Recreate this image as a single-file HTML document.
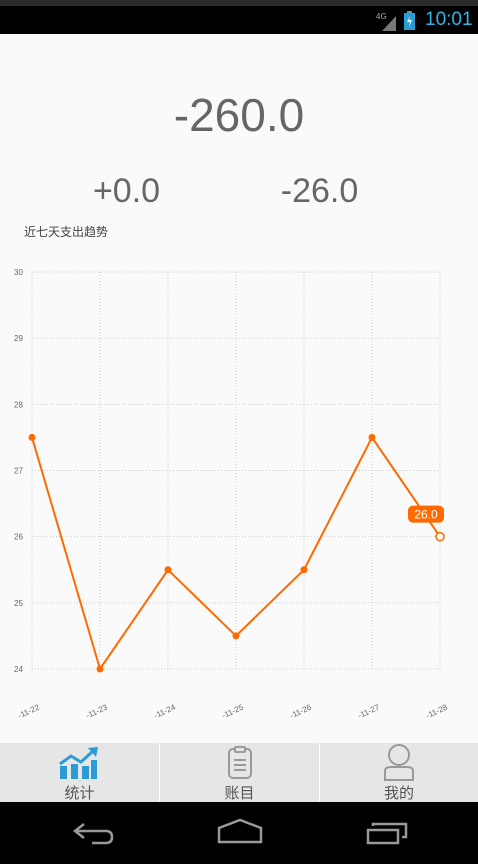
<!DOCTYPE html>
<html><head><meta charset="utf-8">
<style>
html,body{margin:0;padding:0;width:478px;height:864px;overflow:hidden;background:#fafafa;font-family:"Liberation Sans","Noto Sans CJK SC",sans-serif;}
.abs{position:absolute;}
</style></head>
<body>
<div class="abs" style="left:0;top:0;width:478px;height:6px;background:#2a2a2a"></div>
<div class="abs" style="left:0;top:6px;width:478px;height:28px;background:#000">
  <svg class="abs" style="left:376px;top:4px" width="22" height="22"><text x="0" y="9" font-size="8" fill="#aaa" font-family="Liberation Sans">4G</text><polygon points="6,21 20,21 20,6" fill="#777"/></svg>
  <svg class="abs" style="left:404px;top:5px" width="12" height="20"><rect x="3" y="0" width="5" height="3" fill="#3aa"/><rect x="0" y="2" width="11" height="17" fill="#2b9bd6"/><polygon points="6,5 3,11 6,11 5,16 8,9 5,9" fill="#fff"/></svg>
  <div class="abs" style="left:425px;top:3px;font-size:19px;color:#33b5e5">10:01</div>
</div>
<div class="abs" style="left:0;width:478px;top:88px;text-align:center;font-size:46px;color:#666">-260.0</div>
<div class="abs" style="left:60px;width:133px;top:172px;text-align:center;font-size:34px;color:#666">+0.0</div>
<div class="abs" style="left:253px;width:133px;top:172px;text-align:center;font-size:34px;color:#666">-26.0</div>
<div class="abs" style="left:24px;top:223px;font-size:12px;color:#444">近七天支出趋势</div>
<svg class="abs" id="chart" style="left:0;top:250px" width="478" height="480"></svg>
<div class="abs" style="left:0;top:743px;width:478px;height:59px;background:#e6e6e6">
  <div class="abs" style="left:159px;top:0;width:1px;height:59px;background:#fff"></div>
  <div class="abs" style="left:319px;top:0;width:1px;height:59px;background:#fff"></div>
  <div class="abs" style="left:0;top:0;width:159px;height:59px">
    <svg class="abs" style="left:59px;top:3px" width="40" height="34"><rect x="1" y="20" width="7" height="13" fill="#2b9bd6"/><rect x="12" y="18" width="7" height="15" fill="#2b9bd6"/><rect x="23" y="20" width="7" height="13" fill="#2b9bd6"/><rect x="32" y="14" width="6" height="19" fill="#2b9bd6"/><polyline points="1,18 12,10 22,16 33,6" stroke="#2b9bd6" stroke-width="3" fill="none"/><polygon points="29,2 39,1 37,11" fill="#2b9bd6"/></svg>
    <div class="abs" style="left:0;width:159px;top:39px;text-align:center;font-size:15px;color:#555">统计</div>
  </div>
  <div class="abs" style="left:160px;top:0;width:159px;height:59px">
    <svg class="abs" style="left:67px;top:3px" width="26" height="34"><rect x="2" y="3" width="22" height="29" rx="4" fill="none" stroke="#999" stroke-width="2"/><rect x="8" y="1" width="10" height="5" rx="1" fill="#e6e6e6" stroke="#999" stroke-width="2"/><line x1="7" y1="14" x2="19" y2="14" stroke="#999" stroke-width="2"/><line x1="7" y1="19" x2="19" y2="19" stroke="#999" stroke-width="2"/><line x1="7" y1="24" x2="19" y2="24" stroke="#999" stroke-width="2"/></svg>
    <div class="abs" style="left:0;width:159px;top:39px;text-align:center;font-size:15px;color:#555">账目</div>
  </div>
  <div class="abs" style="left:320px;top:0;width:158px;height:59px">
    <svg class="abs" style="left:63px;top:0" width="32" height="38"><circle cx="16" cy="12" r="10" fill="none" stroke="#999" stroke-width="2"/><path d="M2,37 L2,28 Q2,24 8,24 L24,24 Q30,24 30,28 L30,37 Z" fill="none" stroke="#999" stroke-width="2"/></svg>
    <div class="abs" style="left:0;width:158px;top:39px;text-align:center;font-size:15px;color:#555">我的</div>
  </div>
</div>
<div class="abs" style="left:0;top:802px;width:478px;height:62px;background:#000">
  <svg class="abs" style="left:72px;top:18px" width="44" height="26"><path d="M12,4 L3,11 L12,18 M3,11 L34,11 Q40,11 40,17 Q40,23 34,23 L20,23" fill="none" stroke="#999" stroke-width="2.5"/></svg>
  <svg class="abs" style="left:217px;top:16px" width="46" height="26"><path d="M2,24 L2,10 L23,2 L44,10 L44,24 Z" fill="none" stroke="#999" stroke-width="2.5"/></svg>
  <svg class="abs" style="left:366px;top:18px" width="44" height="26"><rect x="2" y="10" width="30" height="13" fill="none" stroke="#999" stroke-width="2.5"/><path d="M7,6 L7,4 L40,4 L40,17 L36,17" fill="none" stroke="#999" stroke-width="2.5"/></svg>
</div>
<script>
const categories=["-11-22","-11-23","-11-24","-11-25","-11-26","-11-27","-11-28"];
const values=[27.5,24,25.5,24.5,25.5,27.5,26];
const yTicks=[24,25,26,27,28,29,30];
const highlightLabel="26.0";
const svg=document.getElementById('chart');
const NS="http://www.w3.org/2000/svg";
const top0=250;
const x0=32,x1=440,yMin=24,yMax=30,yPx0=669-top0,yPx1=272-top0;
function xs(i){return x0+(x1-x0)*i/(categories.length-1);}
function ys(v){return yPx0+(yPx1-yPx0)*(v-yMin)/(yMax-yMin);}
function mk(t,a){const e=document.createElementNS(NS,t);for(const k in a)e.setAttribute(k,a[k]);svg.appendChild(e);return e;}
yTicks.forEach(t=>{
  const l=mk('line',{x1:x0,x2:x1,y1:ys(t),y2:ys(t),stroke:'#ccc','stroke-width':1,'stroke-dasharray':'1,2'});
  
  
  const tx=mk('text',{x:14,y:ys(t)+3,'font-size':8,fill:'#666','font-family':'Liberation Sans'});
  tx.textContent=t;
  
  
});
categories.forEach((c,i)=>{
  const l=mk('line',{x1:xs(i),x2:xs(i),y1:ys(yMax),y2:ys(yMin),stroke:'#ccc','stroke-width':1,'stroke-dasharray':'1,2'});
  
  
  const tx=mk('text',{x:xs(i)+8,y:ys(yMin)+40,'font-size':8,fill:'#666','font-family':'Liberation Sans','text-anchor':'end',transform:`rotate(-25 ${xs(i)+8} ${ys(yMin)+40})`});
  tx.textContent=c;
  
  
});
const pl=mk('polyline',{points:values.map((v,i)=>xs(i)+','+ys(v)).join(' '),fill:'none',stroke:'#ff6a00','stroke-width':2});


values.forEach((v,i)=>{
  const last=i===values.length-1;
  const c=mk('circle',{cx:xs(i),cy:ys(v),r:last?4:3.5,fill:last?'#fff':'#ff6a00',stroke:'#ff6a00','stroke-width':last?1.5:0});
  
  
});
const li=values.length-1,lx=xs(li),ly=ys(values[li]);
const r=mk('rect',{x:lx-32,y:ly-31,width:36,height:17,rx:5,fill:'#ff6a00'});


const tt=mk('text',{x:lx-14,y:ly-18,'font-size':12,fill:'#fff','font-family':'Liberation Sans','text-anchor':'middle'});
tt.textContent=highlightLabel;


</script>
</body></html>
